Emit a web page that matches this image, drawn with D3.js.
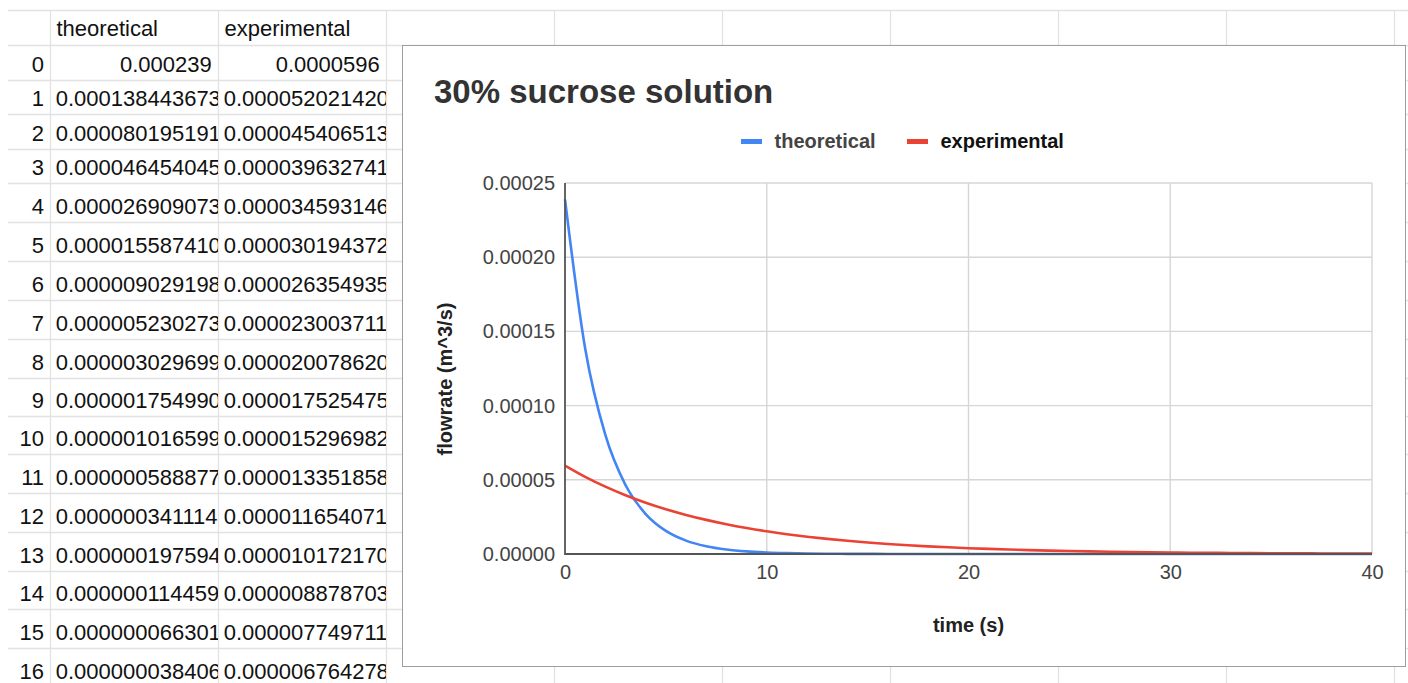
<!DOCTYPE html>
<html><head><meta charset="utf-8">
<script src="https://cdn.jsdelivr.net/npm/d3@7/dist/d3.min.js"></script>
<style>
html,body{margin:0;padding:0;background:#fff;overflow:hidden}
svg{display:block}
text{font-family:"Liberation Sans",Arial,Helvetica,sans-serif}
</style></head>
<body><svg id="c" width="1408" height="683"></svg>
<script>
// ---------- data ----------
const time = [0,1,2,3,4,5,6,7,8,9,10,11,12,13,14,15,16,17,18,19,20,21,22,23,24,25,26,27,28,29,30,31,32,33,34,35,36,37,38,39,40];
const theoretical = [
  0.000239, 0.000138443673, 0.000080195191, 0.000046454045, 0.000026909073,
  0.000015587410, 0.000009029198, 0.000005230273, 0.000003029699, 0.000001754990,
  0.000001016599, 0.000000588877, 0.000000341114, 0.000000197594, 0.000000114459,
  0.000000066301, 0.000000038406,
  2.2247e-8, 1.2887e-8, 7.465e-9, 4.324e-9, 2.505e-9, 1.451e-9, 8.40e-10, 4.87e-10,
  2.82e-10, 1.63e-10, 9.5e-11, 5.5e-11, 3.2e-11, 1.8e-11, 1.1e-11, 6e-12, 3.6e-12,
  2.1e-12, 1.2e-12, 7e-13, 4e-13, 2.3e-13, 1.3e-13, 8e-14
];
const experimental = [
  0.0000596, 0.000052021420, 0.000045406513, 0.000039632741, 0.000034593146,
  0.000030194372, 0.000026354935, 0.000023003711, 0.000020078620, 0.000017525475,
  0.000015296982, 0.000013351858, 0.000011654071, 0.000010172170, 0.000008878703,
  0.000007749711, 0.000006764278,
  5.904e-6, 5.153e-6, 4.498e-6, 3.926e-6, 3.427e-6, 2.991e-6, 2.611e-6, 2.279e-6,
  1.989e-6, 1.736e-6, 1.515e-6, 1.323e-6, 1.154e-6, 1.008e-6, 8.80e-7, 7.68e-7,
  6.70e-7, 5.85e-7, 5.10e-7, 4.46e-7, 3.89e-7, 3.39e-7, 2.96e-7, 2.59e-7
];
const seriesNames = ["theoretical", "experimental"];
const seriesColors = ["#4285F4", "#EA4335"];
const yTickValues = [0, 0.00005, 0.00010, 0.00015, 0.00020, 0.00025];
const xTickValues = [0, 10, 20, 30, 40];
const chartTitle = "30% sucrose solution";
const xAxisTitle = "time (s)";
const yAxisTitle = "flowrate (m^3/s)";
const visibleRows = 17;

// ---------- layout ----------
const W = 1408, H = 683;
const rowEdges = [10,45,80,114,149,183,222,261,300,339,378,416,454,493,532,571,609,648,687];
const colEdges = [50,218,386,554,722,890,1058,1226,1394];
const FONT_CELL = 22;

const svg = d3.select("#c");
const defs = svg.append("defs");

// ---------- spreadsheet grid ----------
const grid = svg.append("g");
rowEdges.forEach(y => grid.append("line").attr("x1", 8).attr("x2", W).attr("y1", y + 0.5).attr("y2", y + 0.5)
  .attr("stroke", "#e2e2e2").attr("stroke-width", 1.3));
colEdges.forEach(x => grid.append("line").attr("x1", x + 0.5).attr("x2", x + 0.5).attr("y1", rowEdges[0]).attr("y2", H)
  .attr("stroke", "#e2e2e2").attr("stroke-width", 1.3));

// column clips
[[colEdges[0], colEdges[1]], [colEdges[1], colEdges[2]]].forEach((c, i) => {
  defs.append("clipPath").attr("id", "clip" + i).append("rect")
    .attr("x", c[0] + 1).attr("y", 0).attr("width", c[1] - c[0] - 1).attr("height", H);
});

const cells = svg.append("g").attr("font-size", FONT_CELL).attr("fill", "#111");
// header row
seriesNames.forEach((n, i) => {
  cells.append("text").attr("x", colEdges[i] + 6.5).attr("y", rowEdges[1] - 9.5).text(n);
});
function cellText(v) {
  const short = v.toFixed(14).replace(/0+$/, "");
  if (short.length <= 10) return { s: short, overflow: false };
  return { s: v.toFixed(12), overflow: true };   // only the characters that show in the cell
}
for (let r = 0; r < visibleRows; r++) {
  const base = rowEdges[r + 2] - 8;
  cells.append("text").attr("x", 44).attr("y", base).attr("text-anchor", "end").text(time[r]);
  [theoretical, experimental].forEach((arr, i) => {
    const t = cellText(arr[r]);
    const el = cells.append("text").attr("y", base).attr("clip-path", `url(#clip${i})`).text(t.s);
    if (t.overflow) el.attr("x", colEdges[i] + 5.7);
    else el.attr("x", colEdges[i + 1] - 6.3).attr("text-anchor", "end");
  });
}

// ---------- chart box ----------
const box = {x: 402, y: 45, w: 1003, h: 621};
svg.append("rect").attr("x", box.x + 0.5).attr("y", box.y + 0.5).attr("width", box.w).attr("height", box.h)
  .attr("fill", "#fff").attr("stroke", "#9e9e9e").attr("stroke-width", 1);

const plot = {l: 565, r: 1372, t: 183, b: 554};
const x = d3.scaleLinear().domain([0, 40]).range([plot.l, plot.r]);
const y = d3.scaleLinear().domain([0, 0.00025]).range([plot.b, plot.t]);

const chart = svg.append("g");

// gridlines
chart.append("g").selectAll("line").data(yTickValues.slice(1)).join("line")
  .attr("x1", plot.l).attr("x2", plot.r).attr("y1", d => y(d)).attr("y2", d => y(d))
  .attr("stroke", "#d6d6d6").attr("stroke-width", 1.4);
chart.append("g").selectAll("line").data(xTickValues.slice(1)).join("line")
  .attr("x1", d => x(d)).attr("x2", d => x(d)).attr("y1", plot.t).attr("y2", plot.b)
  .attr("stroke", "#d6d6d6").attr("stroke-width", 1.4);

// axes (labels via d3 axes)
const yAxis = d3.axisLeft(y).tickValues(yTickValues).tickFormat(d => d.toFixed(5)).tickSize(0).tickPadding(10);
const gy = chart.append("g").attr("transform", `translate(${plot.l},0)`).call(yAxis);
gy.select(".domain").remove();
gy.selectAll("text").attr("font-size", 20).attr("fill", "#444").attr("font-family", '"Liberation Sans",Arial,sans-serif');

const xAxis = d3.axisBottom(x).tickValues(xTickValues).tickFormat(d3.format("d")).tickSize(0).tickPadding(11);
const gx = chart.append("g").attr("transform", `translate(0,${plot.b})`).call(xAxis);
gx.select(".domain").remove();
gx.selectAll("text").attr("font-size", 20).attr("fill", "#444").attr("font-family", '"Liberation Sans",Arial,sans-serif');

// series lines
const series = [theoretical, experimental];
const lineGen = d3.line().x((d, i) => x(time[i])).y(d => y(d)).curve(d3.curveMonotoneX);
series.forEach((s, i) => {
  chart.append("path").datum(s).attr("d", lineGen).attr("fill", "none")
    .attr("stroke", seriesColors[i]).attr("stroke-width", 2.6).attr("stroke-linejoin", "round");
});

// axis lines
chart.append("line").attr("x1", plot.l).attr("x2", plot.l).attr("y1", plot.t).attr("y2", plot.b + 1)
  .attr("stroke", "#555").attr("stroke-width", 1.8);
chart.append("line").attr("x1", plot.l).attr("x2", plot.r).attr("y1", plot.b).attr("y2", plot.b)
  .attr("stroke", "#555").attr("stroke-width", 1.8);

// title
chart.append("text").attr("x", 434).attr("y", 103).attr("font-size", 33).attr("font-weight", "bold")
  .attr("fill", "#333").text(chartTitle);

// legend
const legendX = [741, 907];
const legendColors = ["#444", "#111"];
seriesNames.forEach((n, i) => {
  chart.append("rect").attr("x", legendX[i]).attr("y", 139).attr("width", 21).attr("height", 5)
    .attr("fill", seriesColors[i]);
  chart.append("text").attr("x", legendX[i] + 33.5).attr("y", 147.5).attr("font-size", 20)
    .attr("font-weight", "bold").attr("fill", legendColors[i]).text(n);
});

// axis titles
chart.append("text").attr("x", (plot.l + plot.r) / 2).attr("y", 632).attr("text-anchor", "middle")
  .attr("font-size", 20).attr("font-weight", "bold").attr("fill", "#222").text(xAxisTitle);
chart.append("text").attr("transform", "translate(452,379) rotate(-90)").attr("text-anchor", "middle")
  .attr("font-size", 20).attr("font-weight", "bold").attr("fill", "#222").text(yAxisTitle);
</script>
</body></html>
